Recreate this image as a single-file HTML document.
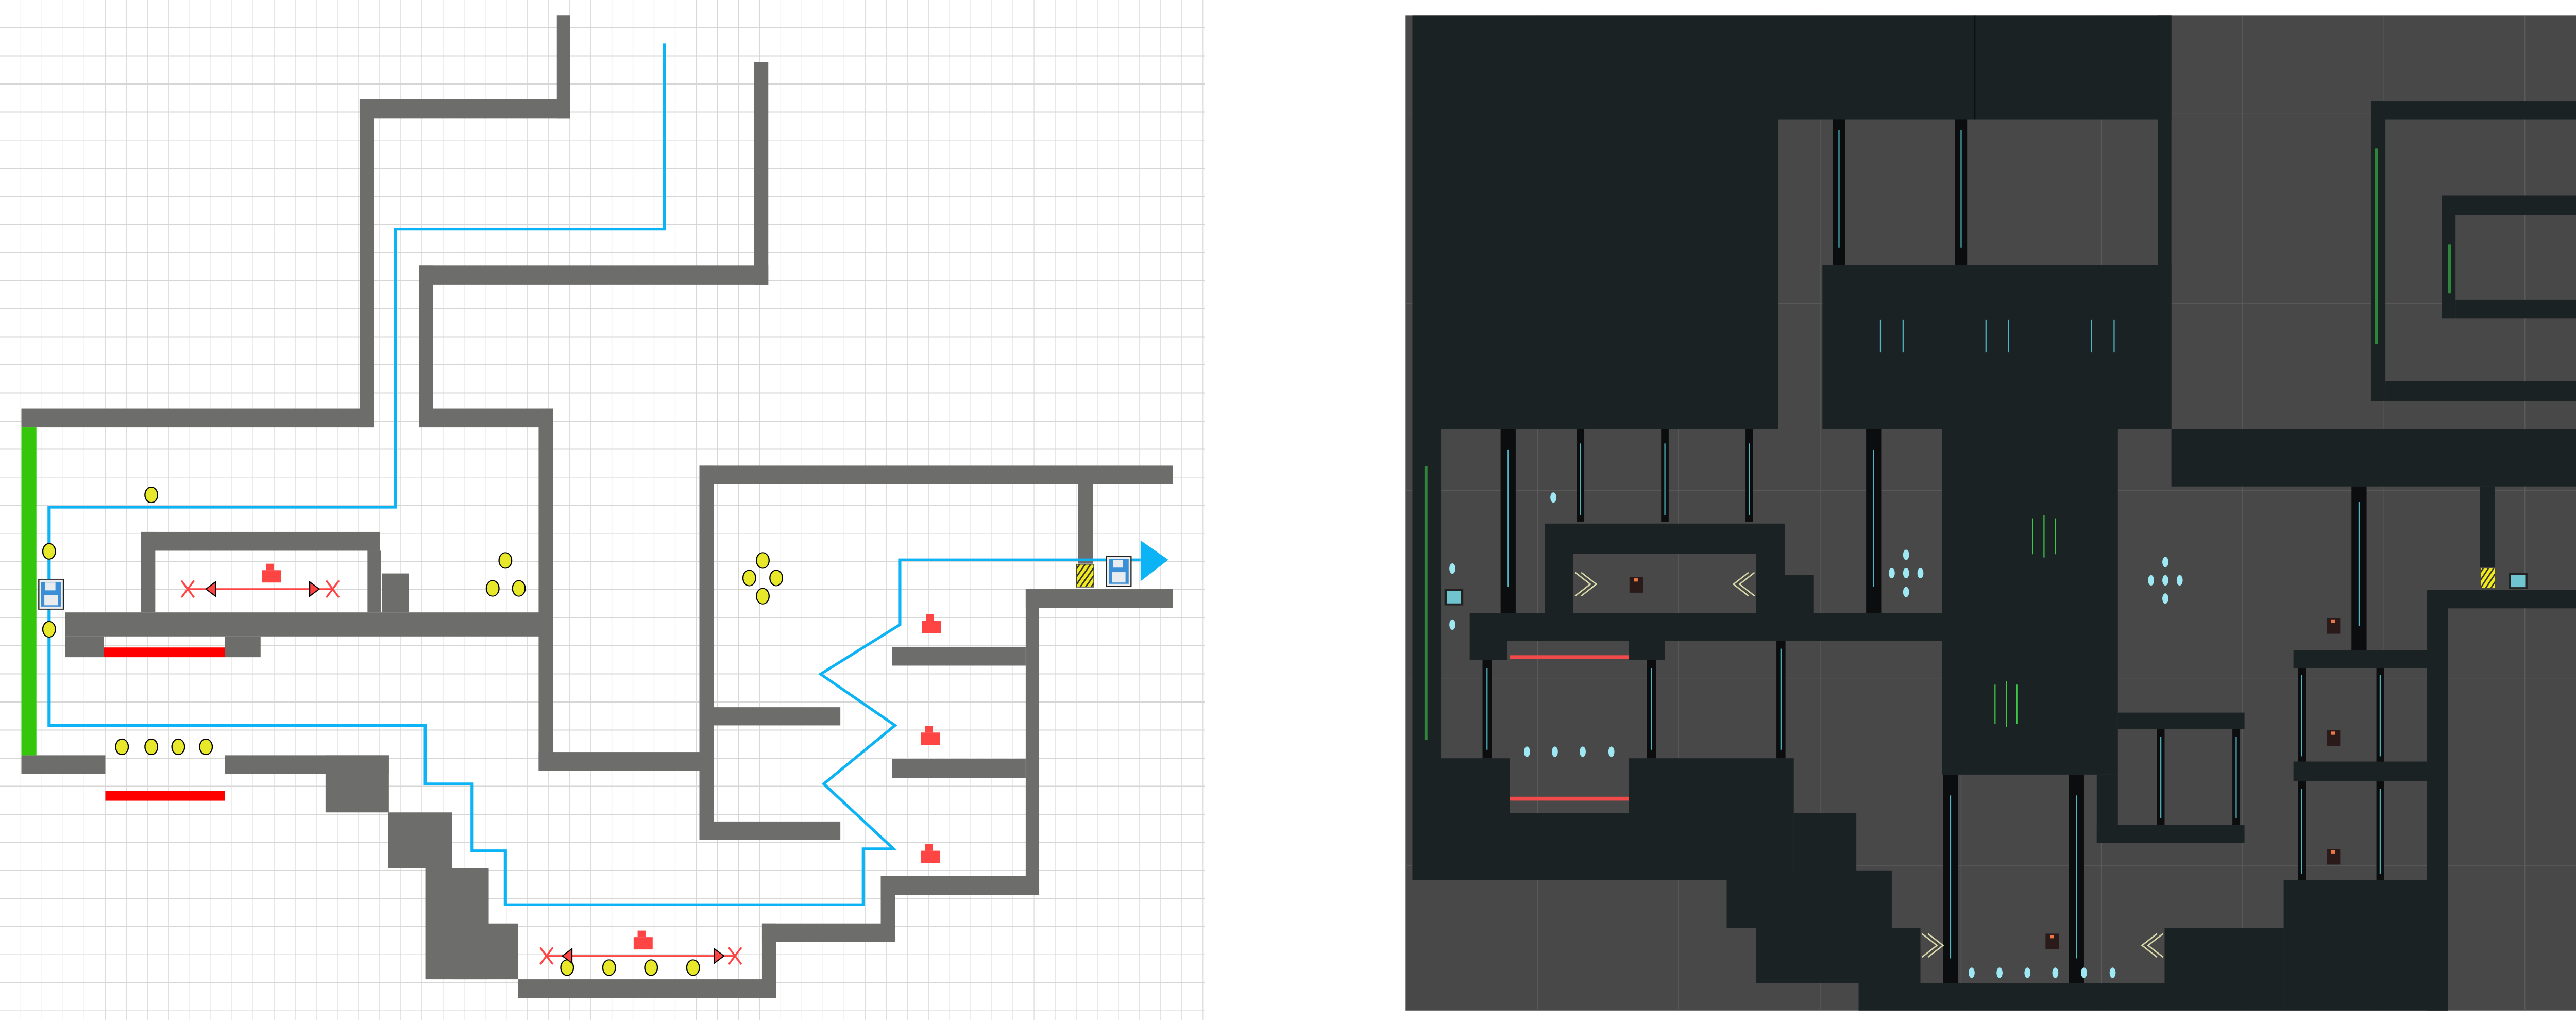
<!DOCTYPE html>
<html><head><meta charset="utf-8"><style>html,body{margin:0;padding:0;background:#fff;overflow:hidden}svg{display:block;width:100vw;height:100vh}</style></head><body>
<svg viewBox="0 0 6651 1979" preserveAspectRatio="none" xmlns="http://www.w3.org/2000/svg">
<defs>
<pattern id="grid" x="0" y="0" width="54.5" height="54.5" patternUnits="userSpaceOnUse"><path d="M54.5 0V54.5M0 54.5H54.5" fill="none" stroke="#d6d6d6" stroke-width="3"/></pattern>
<pattern id="hatch" width="6" height="6" patternUnits="userSpaceOnUse" patternTransform="rotate(30)"><rect width="6" height="6" fill="#f2ea1a"/><rect width="2" height="6" fill="#333"/></pattern>
</defs>
<rect x="0" y="0" width="3110" height="1979" fill="url(#grid)"/>
<g transform="scale(2.045,1.26)">
<g fill="#6d6d6b">
<rect x="703" y="24" width="17" height="158"/>
<rect x="454" y="153" width="266" height="29"/>
<rect x="454" y="153" width="18" height="505"/>
<rect x="27" y="629" width="445" height="29"/>
<rect x="952" y="96" width="18" height="342"/>
<rect x="529" y="409" width="441" height="29"/>
<rect x="529" y="409" width="18" height="249"/>
<rect x="547" y="629" width="151" height="29"/>
<rect x="680" y="629" width="18" height="558"/>
<rect x="680" y="1158" width="215" height="29"/>
<rect x="883" y="717" width="18" height="576"/>
<rect x="883" y="717" width="598" height="29"/>
<rect x="1361" y="746" width="19" height="122"/>
<rect x="1295" y="907" width="186" height="29"/>
<rect x="1295" y="907" width="17" height="471"/>
<rect x="1126" y="996" width="169" height="29"/>
<rect x="1126" y="1169" width="169" height="29"/>
<rect x="901" y="1089" width="160" height="28"/>
<rect x="883" y="1265" width="178" height="28"/>
<rect x="1112" y="1349" width="200" height="29"/>
<rect x="1112" y="1349" width="18" height="101"/>
<rect x="962" y="1422" width="168" height="28"/>
<rect x="962" y="1422" width="18" height="115"/>
<rect x="654" y="1508" width="326" height="29"/>
<rect x="572" y="1422" width="82" height="86"/>
<rect x="537" y="1337" width="80" height="171"/>
<rect x="490" y="1251" width="81" height="86"/>
<rect x="411" y="1163" width="80" height="88"/>
<rect x="284" y="1163" width="207" height="29"/>
<rect x="27" y="1163" width="106" height="29"/>
<rect x="178" y="819" width="302" height="29"/>
<rect x="178" y="819" width="18" height="124"/>
<rect x="464" y="848" width="17" height="95"/>
<rect x="482" y="883" width="34" height="60"/>
<rect x="82" y="943" width="616" height="37"/>
<rect x="82" y="980" width="49" height="32"/>
<rect x="284" y="980" width="45" height="32"/>
</g>
<rect x="27" y="658" width="19" height="505" fill="#33c60a"/>
<rect x="131" y="997" width="153" height="15" fill="#f00"/>
<rect x="133" y="1218" width="151" height="15" fill="#f00"/>
<polyline fill="none" stroke="#0cb4f5" stroke-width="4" points="839,67 839,353 499,353 499,781 62,781 62,1117 537,1117 537,1207 596,1207 596,1310 638,1310 638,1393 1090,1393 1090,1307 1128,1307 1040,1207 1130,1117 1036,1038 1136,962 1136,862 1440,862"/>
<polygon points="1440,832 1475,862 1440,895" fill="#0cb4f5"/>
<g fill="#e8e82a" stroke="#000" stroke-width="1.5">
<ellipse cx="191" cy="762" rx="8" ry="12"/><ellipse cx="62" cy="849" rx="8" ry="12"/><ellipse cx="62" cy="969" rx="8" ry="12"/>
<ellipse cx="154" cy="1150" rx="8" ry="12"/><ellipse cx="191" cy="1150" rx="8" ry="12"/><ellipse cx="225" cy="1150" rx="8" ry="12"/><ellipse cx="260" cy="1150" rx="8" ry="12"/>
<ellipse cx="638" cy="863" rx="8" ry="12"/><ellipse cx="622" cy="906" rx="8" ry="12"/><ellipse cx="655" cy="906" rx="8" ry="12"/>
<ellipse cx="963" cy="863" rx="8" ry="12"/><ellipse cx="946" cy="890" rx="8" ry="12"/><ellipse cx="980" cy="890" rx="8" ry="12"/><ellipse cx="963" cy="918" rx="8" ry="12"/>
<ellipse cx="716" cy="1490" rx="8" ry="12"/><ellipse cx="769" cy="1490" rx="8" ry="12"/><ellipse cx="822" cy="1490" rx="8" ry="12"/><ellipse cx="875" cy="1490" rx="8" ry="12"/>
</g>
<g fill="#f44">
<rect x="331" y="878" width="24" height="19"/><rect x="336" y="868" width="10" height="10"/>
<rect x="1164" y="956" width="24" height="19"/><rect x="1169" y="946" width="10" height="10"/>
<rect x="1163" y="1128" width="24" height="19"/><rect x="1168" y="1118" width="10" height="10"/>
<rect x="1163" y="1310" width="24" height="19"/><rect x="1168" y="1300" width="10" height="10"/>
<rect x="800" y="1443" width="24" height="19"/><rect x="805" y="1433" width="10" height="10"/>
</g>
<g stroke="#f44" stroke-width="2.5" fill="none">
<line x1="237" y1="907" x2="420" y2="907"/><line x1="229" y1="894" x2="245" y2="920"/><line x1="245" y1="894" x2="229" y2="920"/><line x1="412" y1="894" x2="428" y2="920"/><line x1="428" y1="894" x2="412" y2="920"/>
<line x1="690" y1="1472" x2="928" y2="1472"/><line x1="682" y1="1459" x2="698" y2="1485"/><line x1="698" y1="1459" x2="682" y2="1485"/><line x1="920" y1="1459" x2="936" y2="1485"/><line x1="936" y1="1459" x2="920" y2="1485"/>
</g>
<g fill="#f44" stroke="#000" stroke-width="1.5">
<polygon points="260,907 272,896 272,918"/><polygon points="403,907 391,896 391,918"/>
<polygon points="710,1472 722,1461 722,1483"/><polygon points="914,1472 902,1461 902,1483"/>
</g>
<g>
<rect x="49" y="892" width="31" height="46" fill="#eee" stroke="#222" stroke-width="1.5"/><rect x="52" y="896" width="25" height="38" fill="#3a8fd6"/><rect x="56" y="916" width="17" height="16" fill="#e8ecef"/><rect x="57" y="897" width="13" height="12" fill="#e8ecef"/>
<rect x="1397" y="857" width="31" height="46" fill="#eee" stroke="#222" stroke-width="1.5"/><rect x="1400" y="861" width="25" height="38" fill="#3a8fd6"/><rect x="1404" y="881" width="17" height="16" fill="#e8ecef"/><rect x="1405" y="862" width="13" height="12" fill="#e8ecef"/>
<rect x="1359" y="869" width="22" height="35" fill="url(#hatch)" stroke="#444" stroke-width="1"/>
</g>
</g>

<g transform="translate(3600,0) scale(1.946,1.265)">
<rect x="15" y="24" width="1553" height="1526" fill="#484848"/>
<g stroke="#5a5a5a" stroke-width="1" fill="none">
<path d="M190 24V1550M377 24V1550M565 24V1550M752 24V1550M938 24V1550M1125 24V1550M1312 24V1550M1500 24V1550M15 175H1568M15 465H1568M15 752H1568M15 1040H1568M15 1328H1568"/>
</g>
<g fill="#1b2224">
<rect x="24" y="24" width="485" height="634"/>
<rect x="509" y="24" width="522" height="159"/>
<rect x="1013" y="24" width="18" height="634"/>
<rect x="568" y="407" width="463" height="251"/>
<rect x="24" y="658" width="38" height="692"/>
<rect x="1031" y="658" width="537" height="88"/>
<rect x="727" y="658" width="233" height="530"/>
<rect x="200" y="803" width="318" height="46"/>
<rect x="200" y="849" width="37" height="91"/>
<rect x="480" y="849" width="38" height="91"/>
<rect x="518" y="882" width="38" height="58"/>
<rect x="100" y="940" width="627" height="43"/>
<rect x="100" y="983" width="50" height="29"/>
<rect x="311" y="983" width="48" height="29"/>
<rect x="24" y="1163" width="129" height="187"/>
<rect x="311" y="1163" width="219" height="187"/>
<rect x="153" y="1247" width="158" height="103"/>
<rect x="530" y="1247" width="83" height="103"/>
<rect x="441" y="1335" width="219" height="88"/>
<rect x="480" y="1423" width="218" height="85"/>
<rect x="616" y="1508" width="406" height="42"/>
<rect x="1022" y="1423" width="158" height="127"/>
<rect x="1180" y="1350" width="218" height="200"/>
<rect x="1370" y="905" width="28" height="645"/>
<rect x="1370" y="905" width="198" height="28"/>
<rect x="932" y="1188" width="28" height="105"/>
<rect x="960" y="1093" width="168" height="25"/>
<rect x="932" y="1265" width="196" height="28"/>
<rect x="1193" y="997" width="177" height="28"/>
<rect x="1193" y="1168" width="177" height="30"/>
<rect x="1296" y="155" width="272" height="28"/>
<rect x="1296" y="155" width="19" height="460"/>
<rect x="1315" y="585" width="253" height="30"/>
<rect x="1390" y="300" width="178" height="30"/>
<rect x="1390" y="300" width="18" height="188"/>
<rect x="1408" y="460" width="160" height="28"/>
<rect x="1440" y="746" width="20" height="124"/>
</g>
<line x1="770" y1="24" x2="770" y2="183" stroke="#0b0f10" stroke-width="2"/>
<g fill="#0b0d0e">
<rect x="582" y="183" width="16" height="224"/><rect x="744" y="183" width="16" height="224"/>
<rect x="141" y="658" width="20" height="282"/><rect x="242" y="658" width="10" height="142"/><rect x="354" y="658" width="10" height="142"/><rect x="466" y="658" width="10" height="142"/><rect x="626" y="658" width="20" height="282"/>
<rect x="117" y="1012" width="12" height="151"/><rect x="335" y="1012" width="12" height="151"/><rect x="507" y="983" width="12" height="180"/>
<rect x="728" y="1188" width="20" height="320"/><rect x="895" y="1188" width="20" height="320"/>
<rect x="1270" y="746" width="20" height="251"/><rect x="1199" y="1025" width="10" height="143"/><rect x="1303" y="1025" width="10" height="143"/><rect x="1199" y="1198" width="10" height="152"/><rect x="1303" y="1198" width="10" height="152"/><rect x="1012" y="1118" width="10" height="147"/><rect x="1112" y="1118" width="10" height="147"/>
</g>
<g stroke="#4fb6c4" stroke-width="1.5">
<path d="M590 200V380M752 200V380M151 690V900M247 680V790M359 680V790M471 680V790M636 690V900M123 1025V1150M341 1025V1150M513 995V1150M738 1220V1470M905 1220V1470M1280 770V960M1204 1035V1160M1308 1035V1160M1204 1210V1340M1308 1210V1340M1017 1130V1255M1117 1130V1255"/>
<path d="M645 490V540M675 490V540M785 490V540M815 490V540M925 490V540M955 490V540"/>
</g>
<g stroke="#3ec94a" stroke-width="1.5"><path d="M847 795V850M862 790V855M877 795V850M797 1050V1110M812 1045V1115M826 1050V1110"/></g>
<g fill="#f24a4a"><rect x="153" y="1005" width="158" height="6"/><rect x="153" y="1222" width="158" height="6"/></g>
<g fill="#9ee8f4">
<ellipse cx="211" cy="763" rx="4" ry="8"/><ellipse cx="77" cy="872" rx="4" ry="8"/><ellipse cx="77" cy="958" rx="4" ry="8"/>
<ellipse cx="176" cy="1153" rx="4" ry="8"/><ellipse cx="213" cy="1153" rx="4" ry="8"/><ellipse cx="250" cy="1153" rx="4" ry="8"/><ellipse cx="288" cy="1153" rx="4" ry="8"/>
<ellipse cx="679" cy="851" rx="4" ry="8"/><ellipse cx="660" cy="879" rx="4" ry="8"/><ellipse cx="679" cy="879" rx="4" ry="8"/><ellipse cx="698" cy="879" rx="4" ry="8"/><ellipse cx="679" cy="908" rx="4" ry="8"/>
<ellipse cx="1023" cy="862" rx="4" ry="8"/><ellipse cx="1004" cy="890" rx="4" ry="8"/><ellipse cx="1023" cy="890" rx="4" ry="8"/><ellipse cx="1042" cy="890" rx="4" ry="8"/><ellipse cx="1023" cy="918" rx="4" ry="8"/>
<ellipse cx="766" cy="1492" rx="4" ry="8"/><ellipse cx="803" cy="1492" rx="4" ry="8"/><ellipse cx="840" cy="1492" rx="4" ry="8"/><ellipse cx="877" cy="1492" rx="4" ry="8"/><ellipse cx="915" cy="1492" rx="4" ry="8"/><ellipse cx="953" cy="1492" rx="4" ry="8"/>
</g>
<g fill="#3ec94a"><path d="M40 715h4v420h-4zM1301 228h4v300h-4zM1398 375h4v75h-4z" opacity="0.6"/></g>
<rect x="68" y="905" width="22" height="22" fill="#6fc4d0" stroke="#222" stroke-width="3"/>
<rect x="1480" y="880" width="22" height="22" fill="#6fc4d0" stroke="#222" stroke-width="3"/>
<rect x="1442" y="872" width="18" height="30" fill="url(#hatch)"/>
<g fill="#2a1a1a"><rect x="312" y="885" width="18" height="24"/><rect x="1237" y="948" width="18" height="24"/><rect x="1237" y="1120" width="18" height="24"/><rect x="1237" y="1302" width="18" height="24"/><rect x="864" y="1432" width="18" height="24"/></g>
<g fill="#e74"><rect x="318" y="887" width="5" height="5"/><rect x="1243" y="950" width="5" height="5"/><rect x="1243" y="1122" width="5" height="5"/><rect x="1243" y="1304" width="5" height="5"/><rect x="870" y="1434" width="5" height="5"/></g>
<g stroke="#d8d8a8" stroke-width="2" fill="none">
<path d="M240 878l20 18-20 18M248 878l20 18-20 18M478 878l-20 18 20 18M470 878l-20 18 20 18M700 1432l20 18-20 18M708 1432l20 18-20 18M1020 1432l-20 18 20 18M1012 1432l-20 18 20 18"/>
</g>
</g>
</svg>
</body></html>
